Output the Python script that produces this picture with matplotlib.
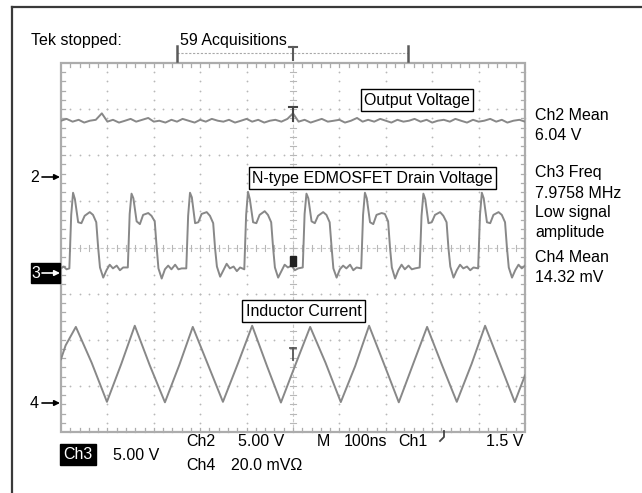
import matplotlib
matplotlib.use('Agg')
import matplotlib.pyplot as plt
from matplotlib.patches import Rectangle

plt.rcParams['font.family'] = ['Liberation Sans', 'DejaVu Sans']

# ---------------- data (time in ns, 100 ns/div, 10 div) ----------------
# Ch2: output voltage (V)
ch2_t = [0, 12, 25, 38, 50, 62, 75, 88, 100, 112, 125, 138, 150, 162, 175, 188, 200, 212, 225, 238,
         250, 262, 275, 288, 300, 312, 325, 338, 350, 362, 375, 388, 400, 412, 425, 438, 450, 462, 475, 488,
         500, 512, 525, 538, 550, 562, 575, 588, 600, 612, 625, 638, 650, 662, 675, 688, 700, 712, 725, 738,
         750, 762, 775, 788, 800, 812, 825, 838, 850, 862, 875, 888, 900, 912, 925, 938, 950, 962, 975, 988, 1000]
ch2_v = [6.1, 6.3, 6.0, 6.2, 5.9, 6.1, 6.2, 6.9, 6.0, 6.2,
         5.9, 6.1, 6.3, 6.0, 6.2, 6.4, 6.0, 6.1, 5.9, 6.2,
         6.0, 6.3, 6.1, 5.9, 6.2, 6.0, 6.3, 6.1, 6.0, 6.2,
         5.9, 6.1, 6.3, 6.0, 6.2, 5.9, 6.1, 6.2, 6.0, 6.3,
         6.9, 6.0, 6.2, 5.9, 6.1, 6.3, 6.0, 6.1, 6.2, 5.9,
         6.1, 6.4, 6.0, 6.2, 6.0, 6.3, 6.1, 5.9, 6.2, 6.0,
         6.1, 6.3, 6.0, 6.2, 5.9, 6.1, 6.2, 6.0, 6.3, 6.1,
         5.9, 6.2, 6.0, 6.1, 6.3, 6.0, 6.2, 5.9, 6.1, 6.2, 6.0]

# Ch3: N-type EDMOSFET drain voltage (V)
ch3_t = [0, 6, 12,
         18, 22, 26, 30, 37, 44, 51, 62, 69, 76, 80, 84, 91, 98, 105, 112, 120, 127, 134,
         144, 148, 152, 156, 163, 170, 177, 188, 195, 202, 206, 210, 217, 224, 231, 238, 246, 253, 260,
         270, 274, 278, 282, 289, 296, 303, 314, 321, 328, 332, 336, 343, 350, 357, 364, 372, 379, 386,
         395, 399, 403, 407, 414, 421, 428, 439, 446, 453, 457, 461, 468, 475, 482, 489, 497, 504, 511,
         521, 525, 529, 533, 540, 547, 554, 565, 572, 579, 583, 587, 594, 601, 608, 615, 623, 630, 637,
         647, 651, 655, 659, 666, 673, 680, 691, 698, 705, 709, 713, 720, 727, 734, 741, 749, 756, 763,
         773, 777, 781, 785, 792, 799, 806, 817, 824, 831, 835, 839, 846, 853, 860, 867, 875, 882, 889,
         899, 903, 907, 911, 918, 925, 932, 943, 950, 957, 961, 965, 972, 979, 986, 993, 1000]
ch3_v = [0.5, 0.7, 0.4,
         0.5, 6.3, 8.7, 8.0, 5.5, 5.4, 6.2, 6.6, 6.3, 5.5, 2.8, 0.6, -0.5, 0.3, 0.9, 0.5, 0.8, 0.3, 0.6,
         0.6, 6.4, 8.6, 8.1, 5.6, 5.3, 6.3, 6.5, 6.2, 5.6, 2.9, 0.5, -0.6, 0.4, 0.8, 0.4, 0.9, 0.4, 0.5,
         0.5, 6.2, 8.7, 8.2, 5.4, 5.5, 6.4, 6.6, 6.2, 5.4, 2.7, 0.7, -0.4, 0.3, 1.0, 0.5, 0.7, 0.2, 0.6,
         0.4, 6.3, 8.8, 8.0, 5.5, 5.4, 6.3, 6.7, 6.3, 5.5, 2.8, 0.6, -0.5, 0.2, 0.9, 0.6, 0.8, 0.3, 0.5,
         0.6, 6.4, 8.6, 8.1, 5.6, 5.4, 6.2, 6.6, 6.3, 5.5, 2.9, 0.5, -0.5, 0.4, 0.8, 0.5, 0.9, 0.3, 0.6,
         0.5, 6.3, 8.7, 8.1, 5.5, 5.3, 6.3, 6.5, 6.4, 5.6, 2.8, 0.6, -0.6, 0.3, 0.9, 0.4, 0.8, 0.4, 0.5,
         0.6, 6.2, 8.6, 8.0, 5.4, 5.5, 6.3, 6.6, 6.2, 5.5, 2.7, 0.7, -0.5, 0.3, 0.9, 0.5, 0.7, 0.3, 0.6,
         0.5, 6.3, 8.7, 8.1, 5.5, 5.4, 6.3, 6.6, 6.3, 5.5, 2.8, 0.6, -0.5, 0.3, 0.9, 0.5, 0.8]

# Ch4: inductor current (mV across sense, 20 mV/div)
ch4_t = [0, 10, 32, 66, 99, 130, 159, 191, 224, 255, 284, 316, 349, 382, 412, 444, 474, 506,
         537, 570, 603, 634, 664, 696, 728, 760, 789, 821, 853, 885, 914, 946, 978, 1000]
ch4_mv = [19.0, 25.0, 33.0, 17.5, 0.5, 17.0, 33.5, 16.5, 0.3, 16.5, 33.0, 17.0, 0.5, 17.5, 33.5, 16.0, 0.2, 17.0,
          33.0, 17.5, 0.4, 16.0, 33.5, 17.0, 0.3, 17.5, 33.0, 16.5, 0.5, 17.0, 33.5, 17.0, 0.4, 12.0]

# Channel settings (text)
right_labels = ["Ch2 Mean", "6.04 V", "Ch3 Freq", "7.9758 MHz", "Low signal", "amplitude", "Ch4 Mean", "14.32 mV"]
box_labels = ["Output Voltage", "N-type EDMOSFET Drain Voltage", "Inductor Current"]

# ---------------- layout (pixels) ----------------
W, H = 642, 493
GL, GR, GT, GB = 61, 525, 63, 432
DX = (GR - GL) / 10.0
DY = (GB - GT) / 8.0
CY = (GT + GB) / 2.0
GRID = '#b8b8b8'
TRACE = '#888888'

fig = plt.figure(figsize=(W / 100, H / 100), dpi=100)
fig.patch.set_facecolor('white')

bg = fig.add_axes([0, 0, 1, 1], zorder=0)
bg.set_xlim(0, W); bg.set_ylim(H, 0); bg.axis('off')

ax = fig.add_axes([GL / W, 1 - GB / H, (GR - GL) / W, (GB - GT) / H], zorder=1)
ax.set_xlim(0, 1000); ax.set_ylim(-4, 4); ax.axis('off')
ax.patch.set_alpha(0)

top = fig.add_axes([0, 0, 1, 1], zorder=2)
top.set_xlim(0, W); top.set_ylim(H, 0); top.axis('off')
top.patch.set_alpha(0)

# outer frame (left and top)
bg.plot([12, 12], [7, H], color='#3a3a3a', lw=1.6)
bg.plot([12, W], [7, 7], color='#3a3a3a', lw=1.6)

# dotted grid
for i in range(1, 10):
    x = GL + i * DX
    if i == 5:
        continue
    ys = [GT + k * DY / 5 for k in range(1, 40)]
    bg.plot([x] * len(ys), ys, ls='none', marker='o', ms=1.3, mfc=GRID, mec='none')
for j in range(1, 8):
    y = GT + j * DY
    if j == 4:
        continue
    xs = [GL + k * DX / 5 for k in range(1, 50)]
    bg.plot(xs, [y] * len(xs), ls='none', marker='o', ms=1.3, mfc=GRID, mec='none')

# center cross with ticks
cx = GL + 5 * DX
bg.plot([cx, cx], [GT, GB], color='#c8c8c8', lw=0.8, ls=(0, (3, 2)))
bg.plot([GL, GR], [CY, CY], color='#c8c8c8', lw=0.8, ls=(0, (3, 2)))
for k in range(1, 40):
    y = GT + k * DY / 5
    bg.plot([cx - 3, cx + 3], [y, y], color=GRID, lw=0.8)
for k in range(1, 50):
    x = GL + k * DX / 5
    bg.plot([x, x], [CY - 3, CY + 3], color=GRID, lw=0.8)

# border with inner ticks
bg.add_patch(Rectangle((GL, GT), GR - GL, GB - GT, fill=False, ec='#acacac', lw=1.6))
for k in range(1, 50):
    x = GL + k * DX / 5
    bg.plot([x, x], [GT, GT + 4], color='#acacac', lw=0.9)
    bg.plot([x, x], [GB, GB - 4], color='#acacac', lw=0.9)
for k in range(1, 40):
    y = GT + k * DY / 5
    bg.plot([GL, GL + 4], [y, y], color='#acacac', lw=0.9)
    bg.plot([GR, GR - 4], [y, y], color='#acacac', lw=0.9)

# acquisition bracket on top
bg.plot([177, 408], [53, 53], color='#a8a8a8', lw=0.8, ls=(0, (2, 1.5)))
for xb in (177, 408):
    bg.plot([xb, xb], [46, 61], color='#5a5a5a', lw=1.8)
bg.plot([289, 297], [47, 47], color='#5a5a5a', lw=1.5)
bg.plot([293, 293], [47, 60], color='#5a5a5a', lw=1.5)

# ---------------- traces ----------------
off2 = (CY - 177) / DY   # ground marker 2
off3 = (CY - 273) / DY   # ground marker 3
off4 = (CY - 403) / DY   # ground marker 4
ax.plot(ch2_t, [v / 5.0 + off2 for v in ch2_v], color=TRACE, lw=1.4)
ax.plot(ch3_t, [v / 5.0 + off3 for v in ch3_v], color=TRACE, lw=1.4)
ax.plot(ch4_t, [m / 20.0 + off4 for m in ch4_mv], color=TRACE, lw=1.4)

# trigger-point artifacts on traces
top.plot([289, 297], [107, 107], color='#444444', lw=1.5)
top.plot([293, 293], [107, 121], color='#444444', lw=1.5)
top.add_patch(Rectangle((290, 256), 6, 10, color='#222222'))
top.plot([290, 296], [348, 348], color='#555555', lw=1.3)
top.plot([293, 293], [348, 360], color='#555555', lw=1.3)

# ---------------- texts ----------------
FS = 11.5
top.text(31, 40, "Tek stopped:", fontsize=FS, va='center', ha='left')
top.text(180, 40, "59 Acquisitions", fontsize=FS, va='center', ha='left')

ry = [115, 135, 173, 193, 213, 233, 257, 277]
for lab, y in zip(right_labels, ry):
    top.text(535, y, lab, fontsize=FS, va='center', ha='left')

bbox = dict(boxstyle='square,pad=0.22', fc='white', ec='black', lw=1.0)
top.text(417, 100, box_labels[0], fontsize=FS, va='center', ha='center', bbox=bbox)
top.text(372.5, 178, box_labels[1], fontsize=FS, va='center', ha='center', bbox=bbox)
top.text(303.5, 311, box_labels[2], fontsize=FS, va='center', ha='center', bbox=bbox)

# channel ground markers
arrow = dict(arrowstyle='-|>', lw=1.2, mutation_scale=8, shrinkA=0, shrinkB=0)
top.text(39, 177, "2", fontsize=FS, va='center', ha='right')
top.annotate('', xy=(60, 177), xytext=(42, 177), arrowprops=dict(color='black', **arrow))
top.add_patch(Rectangle((31, 263), 29, 20, color='black'))
top.text(40, 273, "3", fontsize=FS, va='center', ha='right', color='white')
top.annotate('', xy=(60, 273), xytext=(42, 273), arrowprops=dict(color='white', **arrow))
top.text(39, 403, "4", fontsize=FS, va='center', ha='right')
top.annotate('', xy=(60, 403), xytext=(42, 403), arrowprops=dict(color='black', **arrow))

# bottom settings line
top.add_patch(Rectangle((60, 444), 36, 21, color='black'))
top.text(63, 454.5, "Ch3", fontsize=FS, va='center', ha='left', color='white')
top.text(113, 455, "5.00 V", fontsize=FS, va='center', ha='left')
top.text(186, 442, "Ch2", fontsize=FS, va='center', ha='left')
top.text(238, 442, "5.00 V", fontsize=FS, va='center', ha='left')
top.text(317, 442, "M", fontsize=FS, va='center', ha='left')
top.text(344, 442, "100ns", fontsize=FS, va='center', ha='left')
top.text(398, 442, "Ch1", fontsize=FS, va='center', ha='left')
top.text(486, 442, "1.5 V", fontsize=FS, va='center', ha='left')
top.text(186, 465, "Ch4", fontsize=FS, va='center', ha='left')
top.text(231, 465, "20.0 mV\u03a9", fontsize=FS, va='center', ha='left')
# trigger slope icon
top.plot([440, 444, 444], [441, 437, 431], color='#444444', lw=1.3)

fig.savefig('out.png', dpi=100, facecolor='white')
